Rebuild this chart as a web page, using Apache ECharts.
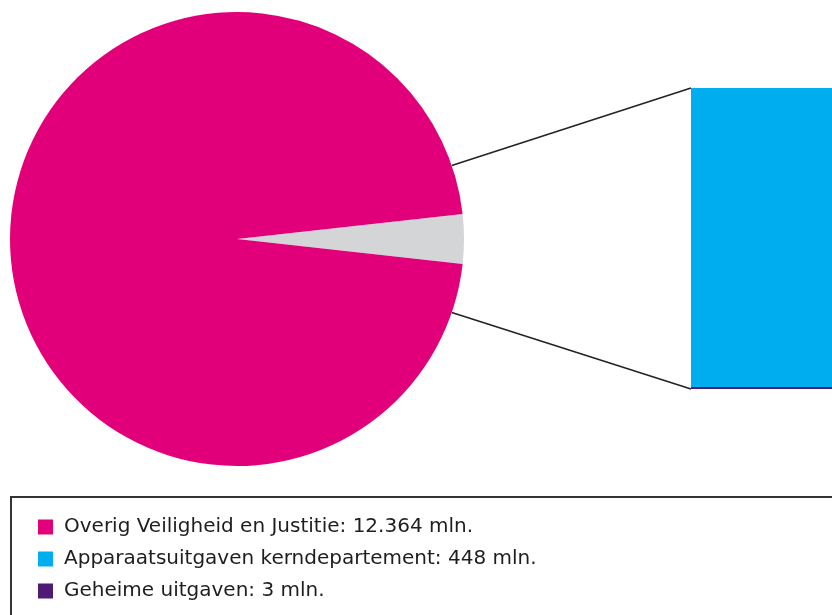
<!DOCTYPE html>
<html>
<head>
<meta charset="utf-8">
<script src="https://cdn.jsdelivr.net/npm/echarts@6/dist/echarts.min.js"></script>
<style>
  html, body { margin: 0; padding: 0; background: #fff; }
  #chart { width: 832px; height: 615px; }
</style>
</head>
<body>
<div id="chart"></div>
<script>
// begroting V&J, bedragen in mln
var names = ['Overig Veiligheid en Justitie', 'Apparaatsuitgaven kerndepartement', 'Geheime uitgaven'];
var values = [12364, 448, 3];
var colors = ['#e2007a', '#00aeef', '#4e1a74'];
var restColor = '#d3d5d6';

// pie geometry
var cx = 237, cy = 239, r = 227;
// uitsplitsing (bar) rechts
var barLeft = 691, barTop = 88, barBottom = 389;

var detail = values[1] + values[2];
var total = values[0] + detail;
var halfAngle = detail / total * 180; // in graden

function fmt(v) {
  return String(v).replace(/\B(?=(\d{3})+(?!\d))/g, '.');
}

// verbindingslijnen vanaf de cirkel naar de staaf
var lineAngle = 18.9 * Math.PI / 180;
var p1 = [cx + r * Math.cos(lineAngle), cy - r * Math.sin(lineAngle)];
var p2 = [cx + r * Math.cos(lineAngle), cy + r * Math.sin(lineAngle)];

var chart = echarts.init(document.getElementById('chart'));
var option = {
  animation: false,
  grid: {
    left: barLeft,
    top: barTop,
    width: 200,
    height: barBottom - barTop
  },
  xAxis: { type: 'category', data: [''], show: false },
  yAxis: { type: 'value', min: 0, max: detail, show: false },
  legend: {
    orient: 'vertical',
    left: 33,
    top: 512,
    icon: 'rect',
    itemWidth: 15,
    itemHeight: 15,
    itemGap: 12,
    selectedMode: false,
    data: names,
    textStyle: {
      fontFamily: 'DejaVu Sans',
      fontSize: 20,
      color: '#1e1e1e',
      padding: [0, 0, 0, 6]
    },
    formatter: function (name) {
      var i = names.indexOf(name);
      return name + ': ' + fmt(values[i]) + ' mln.';
    }
  },
  graphic: [
    {
      type: 'rect',
      shape: { x: 11, y: 497, width: 900, height: 200 },
      style: { fill: 'none', stroke: '#333', lineWidth: 2 }
    },
    {
      type: 'line',
      shape: { x1: p1[0], y1: p1[1], x2: barLeft, y2: barTop },
      style: { stroke: '#222', lineWidth: 1.5 }
    },
    {
      type: 'line',
      shape: { x1: p2[0], y1: p2[1], x2: barLeft, y2: barBottom },
      style: { stroke: '#222', lineWidth: 1.5 }
    }
  ],
  series: [
    {
      type: 'pie',
      center: [cx, cy],
      radius: r,
      startAngle: halfAngle,
      clockwise: true,
      label: { show: false },
      labelLine: { show: false },
      silent: true,
      itemStyle: { borderWidth: 0 },
      data: [
        { name: 'rest', value: detail, itemStyle: { color: restColor } },
        { name: names[0], value: values[0], itemStyle: { color: colors[0] } }
      ]
    },
    {
      name: names[2],
      type: 'bar',
      stack: 'detail',
      barWidth: '100%',
      itemStyle: { color: colors[2] },
      data: [values[2]]
    },
    {
      name: names[1],
      type: 'bar',
      stack: 'detail',
      barWidth: '100%',
      itemStyle: { color: colors[1] },
      data: [values[1]]
    }
  ]
};
chart.setOption(option);
</script>
</body>
</html>
